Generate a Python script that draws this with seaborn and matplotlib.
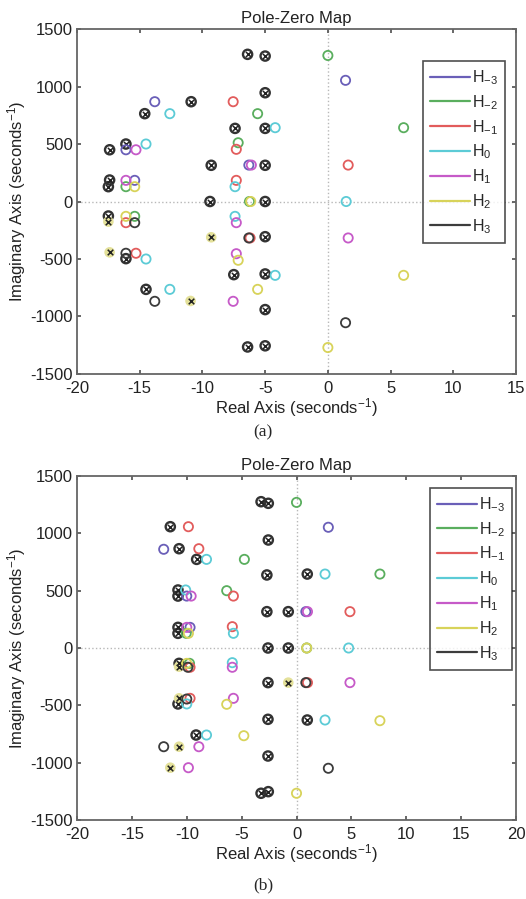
import matplotlib
matplotlib.use("Agg")
import matplotlib.pyplot as plt
import seaborn as sns
import pandas as pd
from matplotlib.lines import Line2D

# --- data ---
SYSTEMS = ["H-3", "H-2", "H-1", "H0", "H1", "H2", "H3"]
LABELS = [r"H$_{-3}$", r"H$_{-2}$", r"H$_{-1}$", r"H$_{0}$", r"H$_{1}$", r"H$_{2}$", r"H$_{3}$"]
COLORS = ["#6a5fb8", "#5aae5e", "#e25c5c", "#5ccbd6", "#c65ac8", "#d8d35a", "#3c3c3c"]

Y_TICKS = [-1500, -1000, -500, 0, 500, 1000, 1500]
A_X_TICKS = [-20, -15, -10, -5, 0, 5, 10, 15]
B_X_TICKS = [-20, -15, -10, -5, 0, 5, 10, 15, 20]

# panel (a): zeros of each system
A_HM3 = [(-16.1, 450), (-13.8, 868), (1.41, 1054), (-6.3, 317), (-15.4, 184)]
A_HM2 = [(-5.6, 764), (0.0, 1270), (-7.15, 511), (6.04, 642), (-16.1, 129), (-6.25, 0), (-15.4, -129)]
A_HM1 = [(-7.55, 868), (-7.3, 454), (1.62, 317), (-7.3, 184), (-15.3, -450), (-6.2, -317), (-16.1, -184)]
A_H0 = [(-14.5, 500), (-12.6, 764), (-4.2, 642), (-7.4, 129), (1.46, 0),
        (-14.5, -500), (-12.6, -764), (-4.2, -642), (-7.4, -129)]
A_H1 = [(-15.3, 450), (-6.1, 317), (-16.1, 184), (-7.55, -868), (-7.3, -454), (1.62, -317), (-7.3, -184)]
A_H2 = [(-15.4, 129), (-6.15, 0), (-5.6, -764), (0.0, -1270), (-7.15, -511), (6.04, -642), (-16.1, -129)]
A_H3 = [(-16.1, -450), (-13.8, -868), (1.41, -1054), (-6.3, -317), (-15.4, -184)]
# pole/zero overlaps (circle with cross) and lone poles
A_CANCEL = [(-17.4, 450), (-16.1, 500), (-14.6, 764), (-10.9, 868), (-6.4, 1280), (-5.0, 1265),
            (-5.0, 946), (-7.4, 636), (-5.0, 636), (-9.3, 315), (-5.0, 315), (-17.4, 187),
            (-17.5, 129), (-9.4, 0), (-5.0, 0), (-17.5, -126), (-16.1, -497), (-14.5, -764),
            (-7.5, -636), (-5.0, -630), (-5.0, -306), (-5.0, -940), (-6.4, -1265), (-5.0, -1255)]
A_POLES = [(-17.5, -175), (-17.4, -442), (-9.3, -311), (-10.95, -865)]

# panel (b)
B_HM3 = [(2.9, 1053), (-12.1, 861), (-10.0, 453), (0.85, 317), (-9.7, 180)]
B_HM2 = [(0.0, 1270), (-4.75, 773), (7.6, 645), (-6.36, 500), (-10.05, 128), (-9.75, -134), (0.93, 0)]
B_HM1 = [(-9.85, 1058), (-8.9, 866), (-5.75, 453), (4.87, 317), (-5.85, 186),
         (-9.7, -439), (1.0, -302), (-9.7, -168)]
B_H0 = [(-8.2, 773), (2.6, 645), (-10.1, 506), (-5.75, 128), (4.75, 0),
        (-8.2, -759), (2.6, -628), (-10.0, -488), (-5.85, -128)]
B_H1 = [(-9.6, 453), (1.0, 317), (-10.0, 180), (-9.85, -1044), (-8.9, -861),
        (-5.75, -439), (4.87, -302), (-5.85, -168)]
B_H2 = [(0.93, 0), (-9.85, 128), (-10.0, -134), (0.0, -1267), (-4.8, -765), (7.6, -634), (-6.36, -491)]
B_H3 = [(2.9, -1049), (-12.1, -861), (-10.0, -445), (0.85, -302), (-9.9, -168)]
B_CANCEL = [(-3.23, 1276), (-2.57, 1262), (-11.5, 1058), (-10.7, 866), (-2.57, 942), (-9.1, 773),
            (-2.7, 637), (0.98, 645), (-10.8, 506), (-10.8, 453), (-2.7, 317), (-0.75, 317),
            (-10.8, 180), (-10.8, 128), (-2.6, 0), (-0.75, 0), (-10.7, -134), (-2.6, -302),
            (-10.8, -488), (-2.6, -622), (0.98, -628), (-9.15, -759), (-2.6, -942),
            (-3.23, -1267), (-2.57, -1253)]
B_POLES = [(-10.7, -163), (-0.75, -302), (-10.7, -439), (-10.7, -861), (-11.5, -1044)]

sns.set_theme(style="ticks")
plt.rcParams["font.family"] = ["Liberation Sans", "DejaVu Sans"]
plt.rcParams["mathtext.default"] = "regular"
plt.rcParams["axes.unicode_minus"] = False

FS = 12


def to_df(points):
    return pd.DataFrame(points, columns=["re", "im"])


def draw_panel(ax, zeros, cancel, poles, xlim, xticks, legend_anchor):
    ax.axhline(0, color="#b8b8b8", ls=":", lw=1.0, zorder=0)
    ax.axvline(0, color="#b8b8b8", ls=":", lw=1.0, zorder=0)

    # overlapping pole+zero: dark circle with a cross
    df = to_df(cancel)
    sns.scatterplot(data=df, x="re", y="im", ax=ax, marker="o", s=44, color="#333333",
                    facecolor="none", edgecolor="#333333", linewidth=1.7, zorder=3)
    sns.scatterplot(data=df, x="re", y="im", ax=ax, marker="x", s=14, color="#222222",
                    linewidth=1.1, zorder=4)

    # lone poles: cross on a pale yellow spot
    df = to_df(poles)
    sns.scatterplot(data=df, x="re", y="im", ax=ax, marker="o", s=58, color="#e4e19a",
                    edgecolor="none", linewidth=0, zorder=3)
    sns.scatterplot(data=df, x="re", y="im", ax=ax, marker="x", s=16, color="#222222",
                    linewidth=1.1, zorder=4)

    # zeros of each system
    for pts, col in zip(zeros, COLORS):
        sns.scatterplot(data=to_df(pts), x="re", y="im", ax=ax, marker="o", s=44, color=col,
                        facecolor="none", edgecolor=col, linewidth=1.3, zorder=5)

    ax.set_xlim(xlim)
    ax.set_ylim(-1500, 1500)
    ax.set_xticks(xticks)
    ax.set_yticks(Y_TICKS)
    ax.tick_params(direction="in", length=3, top=True, right=True, labelsize=FS,
                   colors="#555555", labelcolor="#222222")
    ax.tick_params(axis="x", pad=5)
    ax.tick_params(axis="y", pad=3)
    for sp in ax.spines.values():
        sp.set_color("#666666")
        sp.set_linewidth(1.3)
    ax.set_title("Pole-Zero Map", fontsize=FS, pad=4, color="#222222")
    ax.set_xlabel("Real Axis (seconds$^{-1}$)", fontsize=FS, labelpad=0, color="#222222")
    ax.set_ylabel("Imaginary Axis (seconds$^{-1}$)", fontsize=FS, labelpad=2, color="#222222")

    handles = [Line2D([0], [0], color=c, lw=1.6) for c in COLORS]
    leg = ax.legend(handles, LABELS, loc="upper right", bbox_to_anchor=legend_anchor,
                    fontsize=11.5, frameon=True, fancybox=False, edgecolor="#222222",
                    handlelength=2.5, handletextpad=0.1, labelspacing=0.38,
                    borderpad=0.45, borderaxespad=0)
    leg.get_frame().set_linewidth(1.2)


fig = plt.figure(figsize=(5.26, 8.99), dpi=100)
ax_a = fig.add_axes([0.1464, 0.584, 0.8346, 0.3837])
ax_b = fig.add_axes([0.1464, 0.0879, 0.8346, 0.3826])

draw_panel(ax_a, [A_HM3, A_HM2, A_HM1, A_H0, A_H1, A_H2, A_H3], A_CANCEL, A_POLES,
           (-20, 15), A_X_TICKS, (0.975, 0.907))
draw_panel(ax_b, [B_HM3, B_HM2, B_HM1, B_H0, B_H1, B_H2, B_H3], B_CANCEL, B_POLES,
           (-20, 20), B_X_TICKS, (0.991, 0.965))

fig.text(0.5, 0.519, "(a)", ha="center", va="center", fontsize=12.5,
         family=["Liberation Serif", "DejaVu Serif"])
fig.text(0.5, 0.0156, "(b)", ha="center", va="center", fontsize=12.5,
         family=["Liberation Serif", "DejaVu Serif"])

fig.savefig("out.png", dpi=100)
